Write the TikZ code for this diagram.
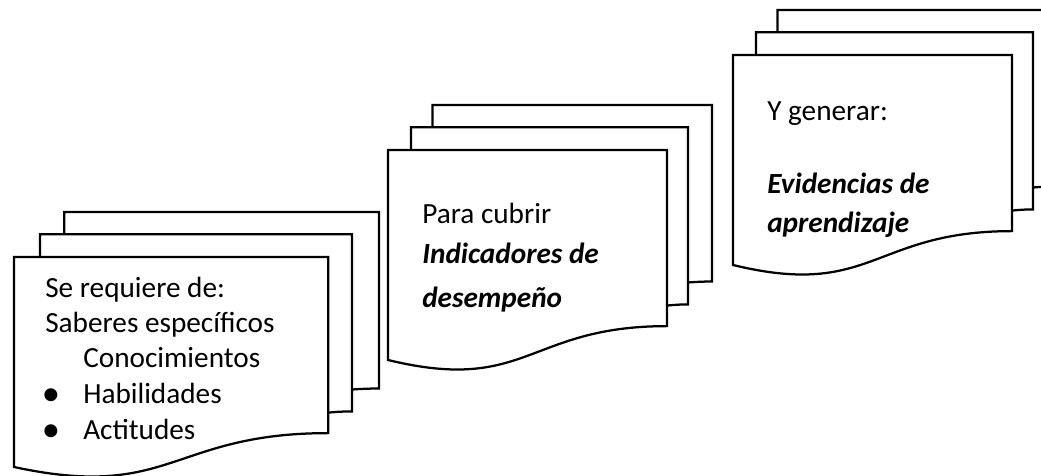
\documentclass[tikz,border=0pt]{standalone}
\usepackage{fontspec}
\setmainfont{Carlito}
\usepackage{tikz}
\tikzset{
  page/.style={draw=black, line width=1.6pt, line join=miter},
  txt/.style={anchor=base west, inner sep=0pt, font=\fontsize{20.8}{24}\selectfont},
  txtbi/.style={txt, font=\fontsize{20.8}{24}\selectfont\bfseries\itshape},
  blt/.style={anchor=center, inner sep=0pt, font=\fontsize{26}{28}\selectfont},
}
% stack of three pages: left, top, width, height (pixels)
\newcommand\stackdoc[4]{%
  \draw[page] ({#1+0.1376*#3},{#2+0.084*#4}) -- ({#1+0.1376*#3},{#2}) -- ({#1+#3},{#2})
    -- ({#1+#3},{#2+0.666*#4})
    .. controls ({#1+0.963*#3},{#2+0.666*#4}) and ({#1+0.9259*#3},{#2+0.6698*#4}) .. ({#1+0.9259*#3},{#2+0.6698*#4});
  \draw[page] ({#1+0.0709*#3},{#2+0.170*#4}) -- ({#1+0.0709*#3},{#2+0.084*#4}) -- ({#1+0.9259*#3},{#2+0.084*#4})
    -- ({#1+0.9259*#3},{#2+0.7524*#4})
    .. controls ({#1+0.8934*#3},{#2+0.7524*#4}) and ({#1+0.8609*#3},{#2+0.757*#4}) .. ({#1+0.8609*#3},{#2+0.757*#4});
  \draw[page] ({#1},{#2+0.170*#4}) -- ({#1+0.8609*#3},{#2+0.170*#4}) -- ({#1+0.8609*#3},{#2+0.8344*#4})
    .. controls ({#1+0.4305*#3},{#2+0.8344*#4}) and ({#1+0.4305*#3},{#2+1.0904*#4}) .. ({#1},{#2+0.9622*#4}) -- cycle;
}

\begin{document}
\begin{tikzpicture}[x=0.025cm, y=-0.025cm]
  \fill[white] (0,0) rectangle (1041,475);
  \useasboundingbox (0,0) rectangle (1041,475);
  \clip (0,0) rectangle (1041,475);

  \stackdoc{14}{212}{365}{265}
  \stackdoc{388}{105}{324}{265}
  \stackdoc{733}{10}{324}{265}

  % first stack
  \node[txt] (req) at (45,297) {Se requiere de:};
  \node[txt] (sab) at (45,332) {Saberes específicos};
  \node[txt] (con) at (83,367) {Conocimientos};
  \node[blt] (b1) at (51,397) {•};
  \node[txt] (hab) at (83,403) {Habilidades};
  \node[blt] (b2) at (51,433) {•};
  \node[txt] (act) at (83,439) {Actitudes};

  % second stack
  \node[txt] (para) at (422,223) {Para cubrir};
  \node[txtbi] (ind) at (422,263) {Indicadores de};
  \node[txtbi] (des) at (422,307) {desempeño};

  % third stack
  \node[txt] (gen) at (767,120) {Y generar:};
  \node[txtbi] (evi) at (767,193) {Evidencias de};
  \node[txtbi] (apr) at (767,232) {aprendizaje};
\end{tikzpicture}
\end{document}
